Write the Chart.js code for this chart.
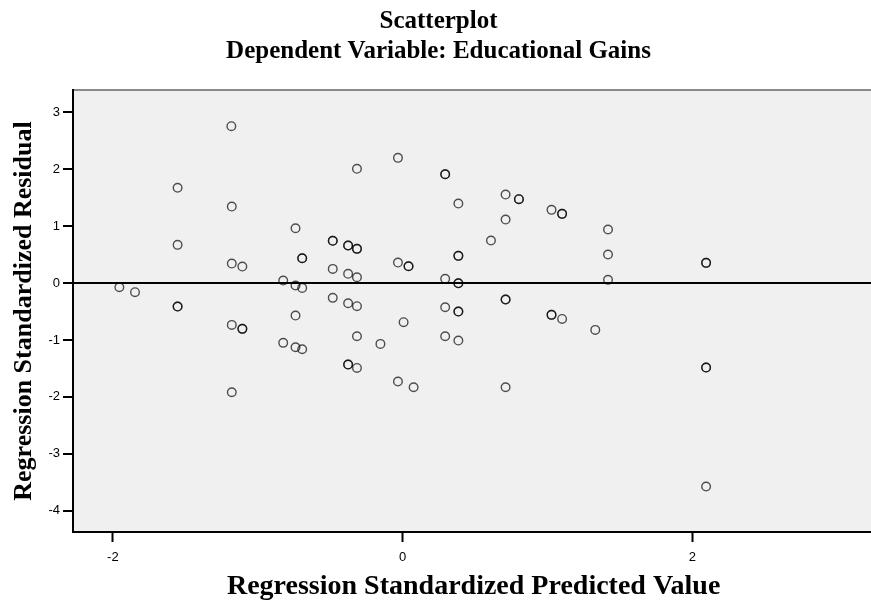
<!DOCTYPE html>
<html>
<head>
<meta charset="utf-8">
<script src="https://cdn.jsdelivr.net/npm/chart.js@4.4.0/dist/chart.umd.min.js"></script>
<style>
  html, body { margin: 0; padding: 0; background: #fff; overflow: hidden; }
  #wrap { width: 871px; height: 605px; overflow: hidden; }
</style>
</head>
<body>
<div id="wrap"><canvas id="scatter" width="880" height="605"></canvas></div>
<script>
// one entry per case; repeated pairs are cases that sit on the same spot
var predicted = [
  -1.955, -1.847, -1.553, -1.553, -1.553, -1.553, -1.182, -1.179, -1.179, -1.106,
  -1.179, -1.106, -1.106, -1.179, -0.824, -0.824, -0.739, -0.739, -0.739, -0.739,
  -0.693, -0.693, -0.693, -0.693, -0.482, -0.482, -0.482, -0.482, -0.376, -0.376,
  -0.376, -0.376, -0.376, -0.376, -0.315, -0.315, -0.315, -0.315, -0.315, -0.315,
  -0.315, -0.153, -0.032, -0.032, -0.032, 0.007, 0.041, 0.041, 0.076, 0.294,
  0.294, 0.294, 0.294, 0.294, 0.385, 0.385, 0.385, 0.385, 0.385, 0.385,
  0.385, 0.385, 0.610, 0.711, 0.711, 0.711, 0.711, 0.711, 0.803, 0.803,
  1.028, 1.028, 1.028, 1.101, 1.101, 1.101, 1.330, 1.418, 1.418, 1.418,
  2.095, 2.095, 2.095, 2.095, 2.095
];
var residual = [
  -0.074, -0.160, 1.673, 0.671, -0.413, -0.413, 2.756, 1.344, 0.343, 0.290,
  -0.735, -0.805, -0.805, -1.919, 0.044, -1.051, 0.963, -0.044, -0.571, -1.128,
  0.436, 0.436, -0.085, -1.163, 0.742, 0.742, 0.249, -0.260, 0.659, 0.659,
  0.162, -0.355, -1.432, -1.432, 0.601, 0.601, 0.102, -0.407, -0.935, -1.491,
  2.007, -1.069, 2.200, 0.360, -1.731, -0.688, 0.295, 0.295, -1.831, 1.912,
  1.912, 0.074, -0.425, -0.935, 1.397, 0.478, 0.478, -0.004, -0.004, -0.501,
  -0.501, -1.010, 0.747, 1.555, 1.116, -0.290, -0.290, -1.831, 1.473, 1.473,
  1.286, -0.559, -0.559, 1.216, 1.216, -0.630, -0.823, 0.940, 0.501, 0.056,
  0.355, 0.355, -1.485, -1.485, -3.576
];
var xTicks = [-2, 0, 2];
var yTicks = [-4, -3, -2, -1, 0, 1, 2, 3];
var chartTitle = ['Scatterplot', 'Dependent Variable: Educational Gains'];
var xTitle = 'Regression Standardized Predicted Value';
var yTitle = 'Regression Standardized Residual';

var serif = '"Liberation Serif", "Times New Roman", serif';
var sans = '"Liberation Sans", Arial, sans-serif';

var points = predicted.map(function(x, i) {
  return { x: x, y: residual[i] };
});

// grey plot background + thin top frame line
var plotFrame = {
  id: 'plotFrame',
  beforeDraw: function(chart) {
    var a = chart.chartArea, ctx = chart.ctx;
    ctx.save();
    ctx.fillStyle = '#f0f0f0';
    ctx.fillRect(a.left, a.top, a.right - a.left, a.bottom - a.top);
    ctx.strokeStyle = '#8a8a8a';
    ctx.lineWidth = 2;
    ctx.beginPath();
    ctx.moveTo(a.left, a.top);
    ctx.lineTo(a.right, a.top);
    ctx.stroke();
    ctx.restore();
  }
};

var ctx = document.getElementById('scatter').getContext('2d');
var scatterChart = new Chart(ctx, {
  type: 'scatter',
  data: {
    datasets: [{
      data: points,
      pointStyle: 'circle',
      pointRadius: 4.3,
      pointBorderWidth: 1.4,
      pointBackgroundColor: 'rgba(0,0,0,0)',
      pointBorderColor: 'rgba(0,0,0,0.68)',
      pointHoverRadius: 4.3
    }]
  },
  options: {
    responsive: false,
    animation: false,
    devicePixelRatio: 1,
    layout: { padding: { left: 0, right: 3, top: 0, bottom: 1 } },
    plugins: {
      legend: { display: false },
      tooltip: { enabled: false },
      title: {
        display: true,
        text: chartTitle,
        color: '#000',
        font: { family: serif, size: 25, weight: 'bold', lineHeight: 1.2 },
        padding: { top: 7, bottom: 23 }
      }
    },
    scales: {
      x: {
        type: 'linear',
        min: -2.275,
        max: 3.256,
        afterBuildTicks: function(s) {
          s.ticks = xTicks.map(function(v) { return { value: v }; });
        },
        afterFit: function(s) { s.height = 72; },
        grid: { drawOnChartArea: false, tickLength: 10, tickWidth: 2, tickColor: '#000' },
        border: { color: '#000', width: 2 },
        ticks: { color: '#000', font: { family: sans, size: 13 }, padding: 8, maxRotation: 0 },
        title: {
          display: true,
          text: xTitle,
          color: '#000',
          font: { family: serif, size: 28, weight: 'bold', lineHeight: 1.2 },
          padding: { top: 0, bottom: 0 }
        }
      },
      y: {
        type: 'linear',
        min: -4.374,
        max: 3.392,
        afterBuildTicks: function(s) {
          s.ticks = yTicks.map(function(v) { return { value: v }; });
        },
        afterFit: function(s) { s.width = 73; },
        grid: {
          // only the zero reference line is drawn across the plot
          color: function(c) { return c.tick && c.tick.value === 0 ? '#000' : 'rgba(0,0,0,0)'; },
          lineWidth: 2,
          tickLength: 10,
          tickWidth: 2,
          tickColor: '#000'
        },
        border: { color: '#000', width: 2 },
        ticks: { color: '#000', font: { family: sans, size: 13 }, padding: 3 },
        title: {
          display: true,
          text: yTitle,
          color: '#000',
          font: { family: serif, size: 26, weight: 'bold', lineHeight: 1.2 },
          padding: { top: 9, bottom: 0 }
        }
      }
    }
  },
  plugins: [plotFrame]
});
</script>
</body>
</html>
